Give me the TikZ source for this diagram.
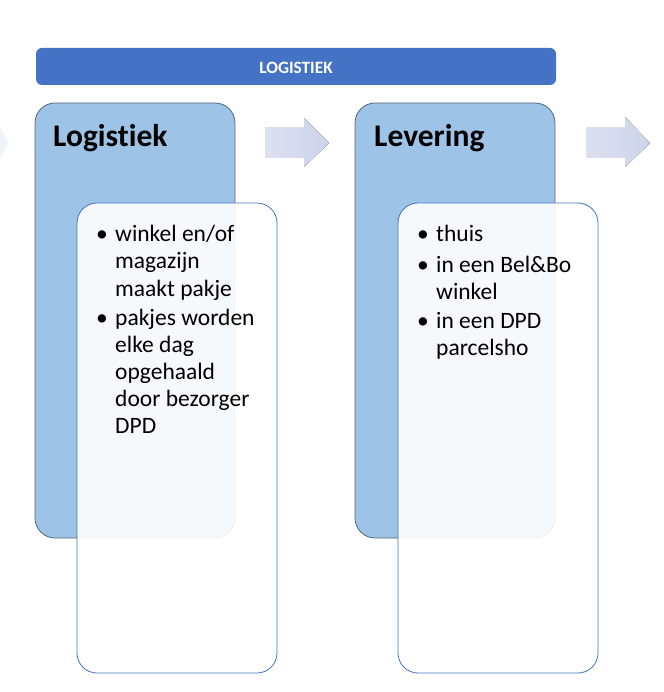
\documentclass[tikz,border=0pt]{standalone}
\usepackage{fontspec}
\setmainfont[Ligatures=NoCommon]{Carlito}
\definecolor{hdrblue}{HTML}{4472C4}
\definecolor{boxblue}{HTML}{9DC3E6}
\definecolor{boxedge}{HTML}{56657B}
\definecolor{arrL}{HTML}{DCE0F0}
\definecolor{arrR}{HTML}{CDD4EA}
\definecolor{arrFaint}{HTML}{F1F3F9}
\tikzset{
  header/.style={fill=hdrblue, draw=none, rounded corners=6pt, minimum width=520pt, minimum height=37pt, inner sep=0pt},
  stagebox/.style={fill=boxblue, draw=boxedge, line width=0.8pt, rounded corners=20pt, minimum width=200pt, minimum height=435pt, inner sep=0pt},
  detailbox/.style={fill=white, fill opacity=0.9, draw=hdrblue, line width=0.8pt, rounded corners=20pt, minimum width=200pt, minimum height=470pt, inner sep=0pt},
  stagetitle/.style={anchor=base west, inner sep=0pt, font=\fontsize{31.5}{36}\selectfont\bfseries},
  bulletdot/.style={anchor=base west, inner sep=0pt, font=\fontsize{23.5}{27}\selectfont},
  itemtext/.style={anchor=base west, inner sep=0pt, font=\fontsize{23.5}{27}\selectfont},
  flowarrow/.style={left color=arrL, right color=arrR, draw=none}
}
\begin{document}
\begin{tikzpicture}[x=1pt,y=-1pt]
\useasboundingbox (0,0) rectangle (663,692);
\fill[white] (0,0) rectangle (663,692);

% header
\node[header] (hdr) at (296,66.5) {};
\node[anchor=base, inner sep=0pt, text=white, font=\fontsize{17.3}{20}\selectfont\bfseries] (hdrtext) at (296,73.5) {LOGISTIEK};

% arrows
\fill[arrFaint] (-20,128) -- (-4,128) -- (-4,118) -- (8,143) -- (-4,167) -- (-4,158) -- (-20,158) -- cycle;
\fill[flowarrow] (265,128) -- (304,128) -- (304,118) -- (329,143) -- (304,167) -- (304,158) -- (265,158) -- cycle;
\fill[flowarrow] (586,128) -- (625,128) -- (625,117) -- (650,143) -- (625,167) -- (625,158) -- (586,158) -- cycle;

% stage 1
\node[stagebox] (s1) at (135,320.5) {};
\node[stagetitle] (s1title) at (53,147) {Logistiek};
\node[detailbox] (d1) at (177,438) {};
\node[bulletdot] (b11) at (96,242) {\textbullet};
\node[itemtext] (t11a) at (115,242) {winkel en/of};
\node[itemtext] (t11b) at (115,269) {magazijn};
\node[itemtext] (t11c) at (115,296) {maakt pakje};
\node[bulletdot] (b12) at (96,325) {\textbullet};
\node[itemtext] (t12a) at (115,325) {pakjes worden};
\node[itemtext] (t12b) at (115,352) {elke dag};
\node[itemtext] (t12c) at (115,379) {opgehaald};
\node[itemtext] (t12d) at (115,406) {door bezorger};
\node[itemtext] (t12e) at (115,433) {DPD};

% stage 2
\node[stagebox] (s2) at (455,320.5) {};
\node[stagetitle] (s2title) at (374,147) {Levering};
\node[detailbox] (d2) at (498,438) {};
\node[bulletdot] (b21) at (417,242) {\textbullet};
\node[itemtext] (t21a) at (436,242) {thuis};
\node[bulletdot] (b22) at (417,272) {\textbullet};
\node[itemtext] (t22a) at (436,272) {in een Bel\&Bo};
\node[itemtext] (t22b) at (436,299) {winkel};
\node[bulletdot] (b23) at (417,328) {\textbullet};
\node[itemtext] (t23a) at (436,328) {in een DPD};
\node[itemtext] (t23b) at (436,355) {parcelsho};
\end{tikzpicture}
\end{document}
